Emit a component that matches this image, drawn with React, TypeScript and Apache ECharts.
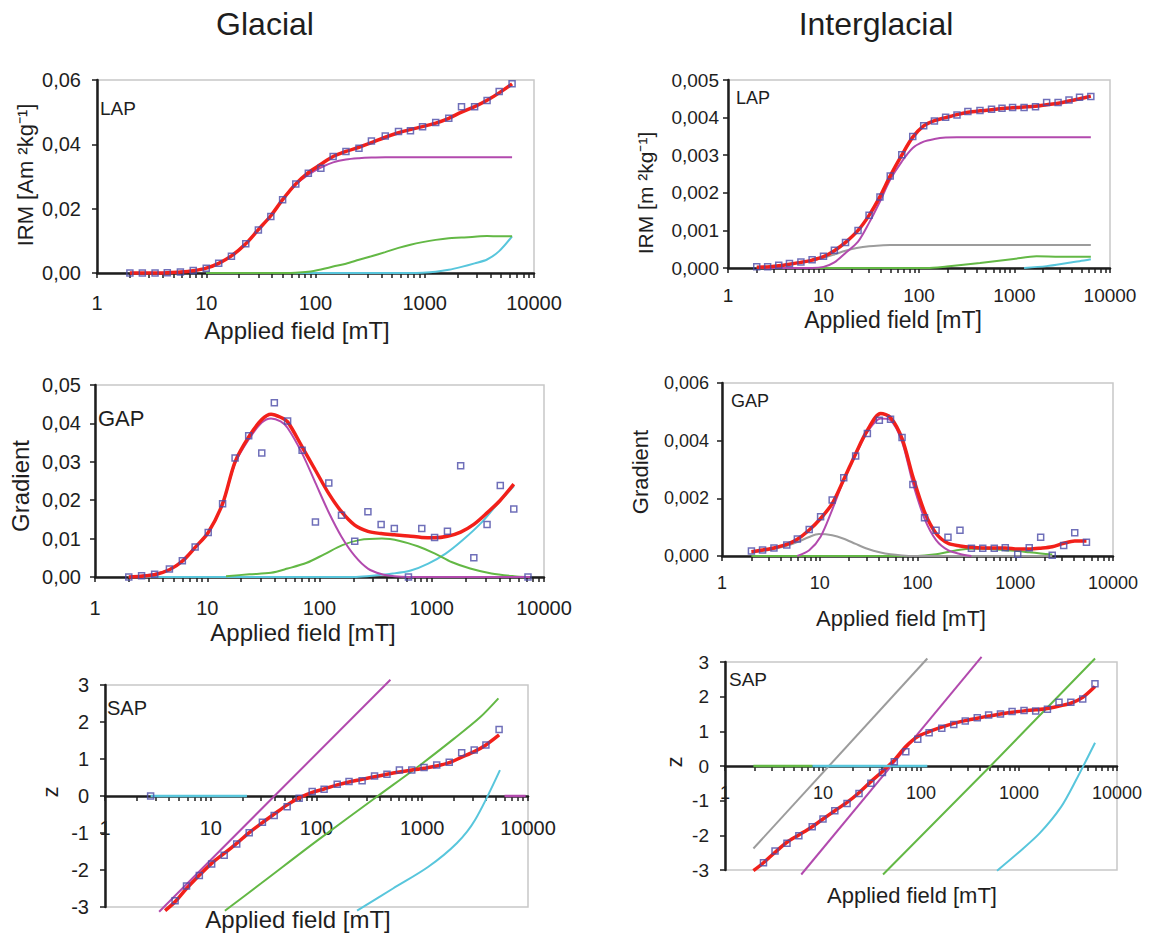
import React, { useEffect, useRef } from 'react';
import * as echarts from 'echarts';

const FONT = '"Liberation Sans", Arial, sans-serif';

// axis ticks / labels
const X_LABELS = [1, 10, 100, 1000, 10000];
const X_MINOR_TICKS = [
  1, 2, 3, 4, 5, 6, 7, 8, 9,
  10, 20, 30, 40, 50, 60, 70, 80, 90,
  100, 200, 300, 400, 500, 600, 700, 800, 900,
  1000, 2000, 3000, 4000, 5000, 6000, 7000, 8000, 9000,
  10000,
];

// ---------- Glacial LAP ----------
const gLapField = [2, 2.6, 3.4, 4.4, 5.8, 7.6, 10, 13, 17, 23, 30, 39, 50, 66, 86, 112, 145, 190, 250, 325, 435, 575, 740, 955, 1260, 1660, 2170, 2860, 3720, 4800, 6300];
const gLapData = [0, 0, 0, 0.0001, 0.0003, 0.0008, 0.0015, 0.003, 0.0052, 0.0091, 0.0134, 0.0176, 0.0228, 0.0277, 0.031, 0.0326, 0.0362, 0.0378, 0.0388, 0.041, 0.0426, 0.044, 0.0442, 0.0455, 0.0468, 0.0481, 0.0517, 0.0517, 0.0536, 0.0564, 0.0588];
const gLapFit = [0, 0, 0, 0.0001, 0.0003, 0.0007, 0.0015, 0.003, 0.0053, 0.0091, 0.0135, 0.0178, 0.0228, 0.0277, 0.0312, 0.0338, 0.0362, 0.0378, 0.0391, 0.0405, 0.0422, 0.0436, 0.0446, 0.0455, 0.0466, 0.0481, 0.05, 0.0517, 0.0537, 0.056, 0.0588];
const gLapMagenta: [number, number][] = [[2, 0], [4.4, 0.0001], [7.6, 0.0007], [10, 0.0015], [13, 0.003], [17, 0.0053], [23, 0.0091], [30, 0.0135], [39, 0.0178], [50, 0.0227], [66, 0.0275], [86, 0.0306], [112, 0.0328], [145, 0.0344], [190, 0.0353], [250, 0.0357], [325, 0.0359], [435, 0.036], [1000, 0.036], [6300, 0.036]];
const gLapGreen: [number, number][] = [[10, 0], [40, 0], [66, 0.0001], [86, 0.0004], [112, 0.0011], [145, 0.002], [190, 0.0029], [250, 0.0041], [325, 0.0052], [435, 0.0065], [575, 0.0078], [740, 0.0088], [955, 0.0096], [1260, 0.0103], [1660, 0.0108], [2170, 0.011], [2860, 0.0113], [3720, 0.0115], [4800, 0.0114], [6300, 0.0114]];
const gLapCyan: [number, number][] = [[10, 0], [300, 0], [740, 0], [955, 0.0001], [1260, 0.0004], [1660, 0.001], [2170, 0.0019], [2860, 0.003], [3720, 0.0042], [4800, 0.0068], [6300, 0.0114]];

// ---------- Interglacial LAP ----------
const iLapField = [2, 2.6, 3.4, 4.4, 5.8, 7.6, 10, 13, 17, 23, 30, 39, 50, 66, 86, 112, 145, 190, 250, 325, 435, 575, 740, 955, 1260, 1660, 2170, 2860, 3720, 4800, 6300];
const iLapData = [0.00003, 0.00003, 0.00007, 0.00012, 0.00016, 0.00022, 0.00031, 0.00047, 0.00068, 0.001, 0.0014, 0.00189, 0.00245, 0.00301, 0.0035, 0.00378, 0.00391, 0.00401, 0.00407, 0.00416, 0.00419, 0.00422, 0.00425, 0.00427, 0.00427, 0.00429, 0.0044, 0.0044, 0.00447, 0.00454, 0.00456];
const iLapFit = [0.00002, 0.00003, 0.00006, 0.0001, 0.00015, 0.00021, 0.0003, 0.00046, 0.00068, 0.001, 0.0014, 0.0019, 0.00245, 0.003, 0.00348, 0.00378, 0.00392, 0.004, 0.00408, 0.00414, 0.00418, 0.00421, 0.00424, 0.00426, 0.00428, 0.0043, 0.00434, 0.00438, 0.00444, 0.0045, 0.00457];
const iLapMagenta: [number, number][] = [[2, 0], [7.6, 0], [10, 0.00003], [13, 0.00015], [17, 0.0004], [23, 0.0007], [30, 0.0012], [39, 0.00177], [50, 0.00235], [66, 0.00283], [86, 0.00319], [112, 0.00336], [145, 0.00343], [190, 0.00347], [250, 0.00348], [1000, 0.00348], [6300, 0.00348]];
const iLapGrey: [number, number][] = [[2, 0.00002], [2.6, 0.00003], [3.4, 0.00006], [4.4, 0.0001], [5.8, 0.00015], [7.6, 0.0002], [10, 0.00027], [13, 0.00036], [17, 0.00046], [23, 0.00054], [30, 0.00058], [39, 0.0006], [50, 0.00061], [300, 0.00061], [6300, 0.00061]];
const iLapGreen: [number, number][] = [[4.4, 0], [40, 0], [120, 0], [195, 0.00004], [435, 0.00013], [980, 0.00024], [1700, 0.00031], [3000, 0.0003], [6300, 0.0003]];
const iLapCyan: [number, number][] = [[1260, 0], [2170, 0.00005], [3720, 0.00014], [4800, 0.00018], [6300, 0.00023]];

// ---------- Glacial GAP ----------
const gGapField = [2, 2.6, 3.4, 4.6, 6, 7.8, 10.2, 13.7, 17.7, 23.4, 30.6, 39.6, 52, 70, 92, 121, 157, 206, 270, 354, 464, 620, 815, 1060, 1380, 1810, 2370, 3110, 4080, 5380, 7200];
const gGapData = [0, 0.0003, 0.0007, 0.0021, 0.0042, 0.0078, 0.0116, 0.0191, 0.031, 0.0368, 0.0323, 0.0454, 0.0406, 0.033, 0.0143, 0.0245, 0.0161, 0.0093, 0.017, 0.0137, 0.0126, 0, 0.0126, 0.0103, 0.0119, 0.029, 0.005, 0.0137, 0.0238, 0.0177, 0];
const gGapFitField = [2, 2.6, 3.4, 4.6, 6, 7.8, 10.2, 13.7, 17.7, 23.4, 30.6, 37, 45, 52, 70, 92, 121, 157, 206, 270, 354, 464, 620, 815, 1060, 1380, 1810, 2370, 3110, 4080, 5380];
const gGapFit = [0, 0.0002, 0.0006, 0.0019, 0.0041, 0.0077, 0.0116, 0.0191, 0.03, 0.0365, 0.041, 0.0424, 0.0416, 0.0404, 0.0339, 0.0278, 0.0217, 0.017, 0.0135, 0.0119, 0.0113, 0.011, 0.0107, 0.0103, 0.0102, 0.0106, 0.0117, 0.0137, 0.0167, 0.02, 0.0242];
const gGapMagenta: [number, number][] = [[2, 0], [4.6, 0.0019], [7.8, 0.0077], [10.2, 0.0116], [13.7, 0.019], [17.7, 0.0296], [23.4, 0.0358], [30.6, 0.0402], [37, 0.0413], [45, 0.0405], [52, 0.0388], [70, 0.0322], [92, 0.0245], [121, 0.0168], [157, 0.0105], [206, 0.0055], [270, 0.0022], [354, 0.0008], [464, 0.0002], [620, 0], [1500, 0], [7500, 0]];
const gGapGreen: [number, number][] = [[14.7, 0.0002], [23.7, 0.0007], [37, 0.0011], [52, 0.0022], [77, 0.0037], [110, 0.0059], [160, 0.0083], [225, 0.0096], [360, 0.01], [520, 0.0094], [750, 0.008], [1070, 0.0061], [1500, 0.0039], [2200, 0.0022], [3400, 0.0009], [5400, 0.0002], [7000, 0]];
const gGapCyan: [number, number][] = [[2, 0], [20, 0], [200, 0], [265, 0.0002], [450, 0.0009], [650, 0.0017], [930, 0.0035], [1330, 0.0061], [1900, 0.0097], [2800, 0.0143], [4000, 0.0196], [5400, 0.0237]];

// ---------- Interglacial GAP ----------
const iGapField = [2, 2.6, 3.4, 4.6, 5.9, 7.8, 10.2, 13.4, 17.6, 23.3, 30.7, 40.7, 53, 69.5, 89.7, 118, 155, 205, 272, 356, 465, 610, 790, 1060, 1390, 1820, 2390, 3130, 4060, 5350];
const iGapData = [0.00017, 0.00021, 0.00028, 0.00038, 0.00059, 0.00092, 0.00136, 0.00194, 0.00271, 0.00347, 0.00425, 0.00471, 0.00474, 0.00411, 0.00248, 0.00133, 0.00089, 0.00065, 0.00089, 0.00027, 0.00027, 0.00027, 0.00029, 0.00006, 0.00029, 0.00065, 0.00003, 0.00036, 0.00081, 0.00048];
const iGapFitField = [2, 2.6, 3.4, 4.6, 5.9, 7.8, 10.2, 13.4, 17.6, 23.3, 30.7, 42, 53, 69.5, 89.7, 118, 155, 205, 272, 356, 465, 610, 790, 1060, 1390, 1820, 2390, 3130, 4060, 5350];
const iGapFit = [0.00015, 0.00021, 0.00028, 0.0004, 0.00058, 0.0009, 0.0013, 0.00182, 0.00265, 0.00355, 0.00436, 0.00494, 0.0048, 0.00407, 0.00275, 0.00153, 0.00078, 0.00044, 0.00035, 0.0003, 0.00028, 0.00028, 0.00028, 0.00024, 0.00024, 0.00027, 0.00032, 0.00044, 0.00052, 0.00052];
const iGapMagenta: [number, number][] = [[5.9, 0], [7.8, 0.0002], [10.2, 0.00067], [13.4, 0.0016], [17.6, 0.00263], [23.3, 0.0035], [30.7, 0.0043], [42, 0.00477], [53, 0.00471], [69.5, 0.00396], [89.7, 0.00252], [118, 0.0013], [155, 0.00055], [205, 0.0002], [272, 0.00007], [356, 0]];
const iGapGrey: [number, number][] = [[2, 0.00012], [2.6, 0.00017], [3.4, 0.00024], [4.6, 0.00035], [5.9, 0.00048], [7.8, 0.00066], [9.8, 0.00076], [13.4, 0.00072], [17.6, 0.0006], [23.3, 0.00042], [30.7, 0.00025], [42, 0.00012], [53, 0.00006], [69.5, 0.00002], [90, 0], [300, 0], [2390, 0]];
const iGapGreen: [number, number][] = [[2, 0], [20, 0], [89.7, 0], [118, 0.00002], [155, 0.00006], [205, 0.00014], [272, 0.00022], [356, 0.00025], [465, 0.00025], [610, 0.00023], [790, 0.0002], [1060, 0.00017], [1390, 0.00013], [1820, 0.00009], [2390, 0.00005]];

// ---------- Glacial SAP ----------
const gSapField = [2.7, 4.6, 5.9, 7.8, 10.2, 13.4, 17.6, 23.1, 30.8, 39.8, 52.8, 68.5, 91, 118, 157, 203, 270, 354, 464, 608, 796, 1040, 1370, 1800, 2360, 3100, 4000, 5330];
const gSapData = [0, -2.83, -2.43, -2.15, -1.84, -1.6, -1.3, -0.99, -0.71, -0.53, -0.29, -0.06, 0.12, 0.18, 0.32, 0.39, 0.41, 0.54, 0.59, 0.7, 0.7, 0.77, 0.84, 0.91, 1.17, 1.24, 1.38, 1.8];
const gSapFitField = [3.7, 4.6, 5.9, 7.8, 10.2, 13.4, 17.6, 23.1, 30.8, 39.8, 52.8, 68.5, 91, 118, 157, 203, 270, 354, 464, 608, 796, 1040, 1370, 1800, 2360, 3100, 4000, 5330];
const gSapFit = [-3.1, -2.86, -2.5, -2.14, -1.82, -1.55, -1.28, -0.99, -0.72, -0.49, -0.24, -0.05, 0.1, 0.19, 0.3, 0.38, 0.45, 0.52, 0.59, 0.65, 0.7, 0.75, 0.81, 0.9, 1.05, 1.2, 1.38, 1.65];
const gSapMagenta: [number, number][] = [[3.25, -3.13], [40, 0], [500, 3.14]];
const gSapMagentaZero: [number, number][] = [[6000, 0], [9500, 0]];
const gSapGreen: [number, number][] = [[13.6, -3.1], [30, -2.36], [100, -1.22], [380, 0], [1000, 0.88], [2000, 1.55], [3500, 2.12], [5250, 2.64]];
const gSapCyan: [number, number][] = [[242, -3.1], [529, -2.5], [1133, -1.92], [2132, -1.27], [3155, -0.65], [5430, 0.7]];
const gSapCyanZero: [number, number][] = [[2.7, 0], [22, 0]];

// ---------- Interglacial SAP ----------
const iSapField = [2.47, 3.24, 4.29, 5.67, 7.76, 10, 13.2, 17.6, 23.3, 30.8, 40.4, 53.4, 70, 92.7, 121, 163, 216, 283, 375, 490, 647, 850, 1125, 1480, 1950, 2560, 3380, 4470, 5960];
const iSapData = [-2.79, -2.45, -2.23, -2.01, -1.75, -1.53, -1.29, -1.08, -0.79, -0.5, -0.19, 0.125, 0.41, 0.77, 0.96, 1.09, 1.2, 1.3, 1.39, 1.47, 1.5, 1.57, 1.6, 1.59, 1.64, 1.84, 1.84, 1.93, 2.37];
const iSapFitField = [1.95, 2.47, 3.24, 4.29, 5.67, 7.76, 10, 13.2, 17.6, 23.3, 30.8, 40.4, 53.4, 70, 92.7, 121, 163, 216, 283, 375, 490, 647, 850, 1125, 1480, 1950, 2560, 3380, 4470, 5960];
const iSapFit = [-3.02, -2.79, -2.49, -2.2, -1.99, -1.75, -1.53, -1.29, -1.05, -0.77, -0.45, -0.16, 0.17, 0.56, 0.85, 0.99, 1.12, 1.23, 1.31, 1.38, 1.44, 1.5, 1.55, 1.59, 1.62, 1.66, 1.73, 1.81, 1.98, 2.29];
const iSapGrey: [number, number][] = [[1.95, -2.38], [116, 3.1]];
const iSapMagenta: [number, number][] = [[6.0, -3.13], [415, 3.15]];
const iSapGreen: [number, number][] = [[41, -3.13], [512, 0], [5970, 3.1]];
const iSapCyan: [number, number][] = [[597, -3.02], [977, -2.51], [1637, -1.93], [2690, -1.18], [3800, -0.42], [5970, 0.67]];
const iSapGreenZero: [number, number][] = [[1.95, 0], [7.8, 0]];
const iSapCyanZero: [number, number][] = [[7.8, 0], [116, 0]];

// colours
const RED = '#f2201a';
const MAGENTA = '#b24aae';
const GREEN = '#63b845';
const CYAN = '#58c6dc';
const GREY = '#9c9c9c';
const SQUARE = '#4b4ba8';
const INK = '#1e1e1e';

const zip = (xs: number[], ys: number[]): [number, number][] => xs.map((x, i) => [x, ys[i]]);

function lineSeries(idx: number, data: [number, number][], color: string, width: number, z = 2, smooth: number | boolean = 0.3) {
  return {
    type: 'line', xAxisIndex: idx, yAxisIndex: idx, data,
    smooth, showSymbol: false, symbol: 'none', clip: false, silent: true,
    lineStyle: { color, width }, z,
  };
}
function pointSeries(idx: number, data: [number, number][]) {
  return {
    type: 'scatter', xAxisIndex: idx, yAxisIndex: idx, data, symbol: 'rect', symbolSize: 6, clip: false, silent: true,
    itemStyle: { color: 'rgba(255,255,255,0)', borderColor: SQUARE, borderWidth: 1.5 }, z: 5,
  };
}
function xAxis(idx: number, fontSize: number, margin: number, offset = 0) {
  return {
    type: 'log', gridIndex: idx, min: 1, max: 10000, logBase: 10, offset,
    axisLine: { show: true, onZero: false, lineStyle: { color: INK, width: 2.5 } },
    axisTick: { show: true, inside: false, length: 5, customValues: X_MINOR_TICKS, lineStyle: { color: INK, width: 1.5 } },
    axisLabel: { customValues: X_LABELS, fontSize, margin, color: INK, fontFamily: FONT, formatter: (v: number) => String(v) },
    splitLine: { show: false }, minorTick: { show: false },
  };
}
function yAxis(idx: number, min: number, max: number, interval: number, dec: number, fontSize: number, margin: number) {
  return {
    type: 'value', gridIndex: idx, min, max, interval,
    axisLine: { show: true, onZero: false, lineStyle: { color: INK, width: 2.5 } },
    axisTick: { show: true, inside: false, length: 5, lineStyle: { color: INK, width: 1.5 } },
    axisLabel: { fontSize, margin, color: INK, fontFamily: FONT, formatter: (v: number) => v.toFixed(dec).replace('.', ',') },
    splitLine: { show: false },
  };
}
function txt(text: string, x: number, y: number, fontSize: number, opts: any = {}) {
  return {
    type: 'text', x, y, rotation: opts.rotation || 0, silent: true,
    style: {
      text, fontSize, fontFamily: FONT, fill: INK,
      textAlign: opts.align || 'center', textVerticalAlign: 'middle',
      align: opts.align || 'center', verticalAlign: 'middle',
    },
  };
}

const grids = [
  { left: 97, top: 80, width: 437, height: 193 },
  { left: 728, top: 80, width: 382, height: 188 },
  { left: 95, top: 385, width: 449, height: 192 },
  { left: 722, top: 383, width: 391, height: 173 },
  { left: 105, top: 685, width: 423, height: 222 },
  { left: 725, top: 662, width: 392, height: 208 },
].map((g) => ({ ...g, show: true, borderColor: '#c8c8c8', borderWidth: 1.5, backgroundColor: 'transparent' }));

export default function App() {
  const ref = useRef<HTMLDivElement>(null);
  useEffect(() => {
    if (!ref.current) return;
    const chart = echarts.init(ref.current, undefined, { renderer: 'svg' });
    const R = Math.PI / 2;
    chart.setOption({
      animation: false,
      backgroundColor: '#ffffff',
      textStyle: { fontFamily: FONT },
      grid: grids,
      xAxis: [
        xAxis(0, 20, 20), xAxis(1, 19, 18), xAxis(2, 20, 21),
        xAxis(3, 18, 18), xAxis(4, 20, 22, -111), xAxis(5, 18, 18, -104),
      ],
      yAxis: [
        yAxis(0, 0, 0.06, 0.02, 2, 20, 16),
        yAxis(1, 0, 0.005, 0.001, 3, 19, 9),
        yAxis(2, 0, 0.05, 0.01, 2, 20, 14),
        yAxis(3, 0, 0.006, 0.002, 3, 18, 13),
        yAxis(4, -3, 3, 1, 0, 20, 16),
        yAxis(5, -3, 3, 1, 0, 19, 16),
      ],
      series: [
        // Glacial LAP
        lineSeries(0, gLapCyan, CYAN, 2),
        lineSeries(0, gLapGreen, GREEN, 2),
        lineSeries(0, gLapMagenta, MAGENTA, 2),
        lineSeries(0, zip(gLapField, gLapFit), RED, 3.5, 3),
        pointSeries(0, zip(gLapField, gLapData)),
        // Interglacial LAP
        lineSeries(1, iLapCyan, CYAN, 2),
        lineSeries(1, iLapGreen, GREEN, 2),
        lineSeries(1, iLapGrey, GREY, 2),
        lineSeries(1, iLapMagenta, MAGENTA, 2),
        lineSeries(1, zip(iLapField, iLapFit), RED, 3.5, 3),
        pointSeries(1, zip(iLapField, iLapData)),
        // Glacial GAP
        lineSeries(2, gGapCyan, CYAN, 2),
        lineSeries(2, gGapGreen, GREEN, 2),
        lineSeries(2, gGapMagenta, MAGENTA, 2),
        lineSeries(2, zip(gGapFitField, gGapFit), RED, 3.5, 3),
        pointSeries(2, zip(gGapField, gGapData)),
        // Interglacial GAP
        lineSeries(3, iGapGreen, GREEN, 2),
        lineSeries(3, iGapGrey, GREY, 2),
        lineSeries(3, iGapMagenta, MAGENTA, 2),
        lineSeries(3, zip(iGapFitField, iGapFit), RED, 3.5, 3),
        pointSeries(3, zip(iGapField, iGapData)),
        // Glacial SAP
        lineSeries(4, gSapCyanZero, CYAN, 2.5, 4, false),
        lineSeries(4, gSapMagentaZero, MAGENTA, 2.5, 4, false),
        lineSeries(4, gSapCyan, CYAN, 2, 2, 0.3),
        lineSeries(4, gSapGreen, GREEN, 2, 2, 0.3),
        lineSeries(4, gSapMagenta, MAGENTA, 2, 2, false),
        lineSeries(4, zip(gSapFitField, gSapFit), RED, 3.5, 3),
        pointSeries(4, zip(gSapField, gSapData)),
        // Interglacial SAP
        lineSeries(5, iSapGreenZero, GREEN, 2.5, 4, false),
        lineSeries(5, iSapCyanZero, CYAN, 2.5, 4, false),
        lineSeries(5, iSapCyan, CYAN, 2, 2, 0.3),
        lineSeries(5, iSapGreen, GREEN, 2, 2, false),
        lineSeries(5, iSapMagenta, MAGENTA, 2, 2, false),
        lineSeries(5, iSapGrey, GREY, 2, 2, false),
        lineSeries(5, zip(iSapFitField, iSapFit), RED, 3.5, 3),
        pointSeries(5, zip(iSapField, iSapData)),
      ],
      graphic: [
        txt('Glacial', 265, 24, 32),
        txt('Interglacial', 876, 24, 32),
        txt('LAP', 100, 108, 19, { align: 'left' }),
        txt('LAP', 736, 98, 18, { align: 'left' }),
        txt('GAP', 98, 418, 22, { align: 'left' }),
        txt('GAP', 731, 401, 18, { align: 'left' }),
        txt('SAP', 107, 708, 20, { align: 'left' }),
        txt('SAP', 729, 679, 19, { align: 'left' }),
        txt('Applied field [mT]', 297, 330, 24),
        txt('Applied field [mT]', 893, 320, 23),
        txt('Applied field [mT]', 303, 632, 24),
        txt('Applied field [mT]', 901, 618, 22),
        txt('Applied field [mT]', 298, 919, 24),
        txt('Applied field [mT]', 912, 895, 22),
        txt('IRM [Am ²kg⁻¹]', 25, 175, 22, { rotation: R }),
        txt('IRM [m ²kg⁻¹]', 645, 193, 21, { rotation: R }),
        txt('Gradient', 20, 486, 24, { rotation: R }),
        txt('Gradient', 640, 472, 22, { rotation: R }),
        txt('z', 50, 792, 22, { rotation: R }),
        txt('z', 674, 762, 22, { rotation: R }),
      ],
    });
    return () => chart.dispose();
  }, []);
  return (
    <div
      ref={ref}
      style={{ position: 'absolute', left: 0, top: 0, width: 1149, height: 933, background: '#fff' }}
    />
  );
}
